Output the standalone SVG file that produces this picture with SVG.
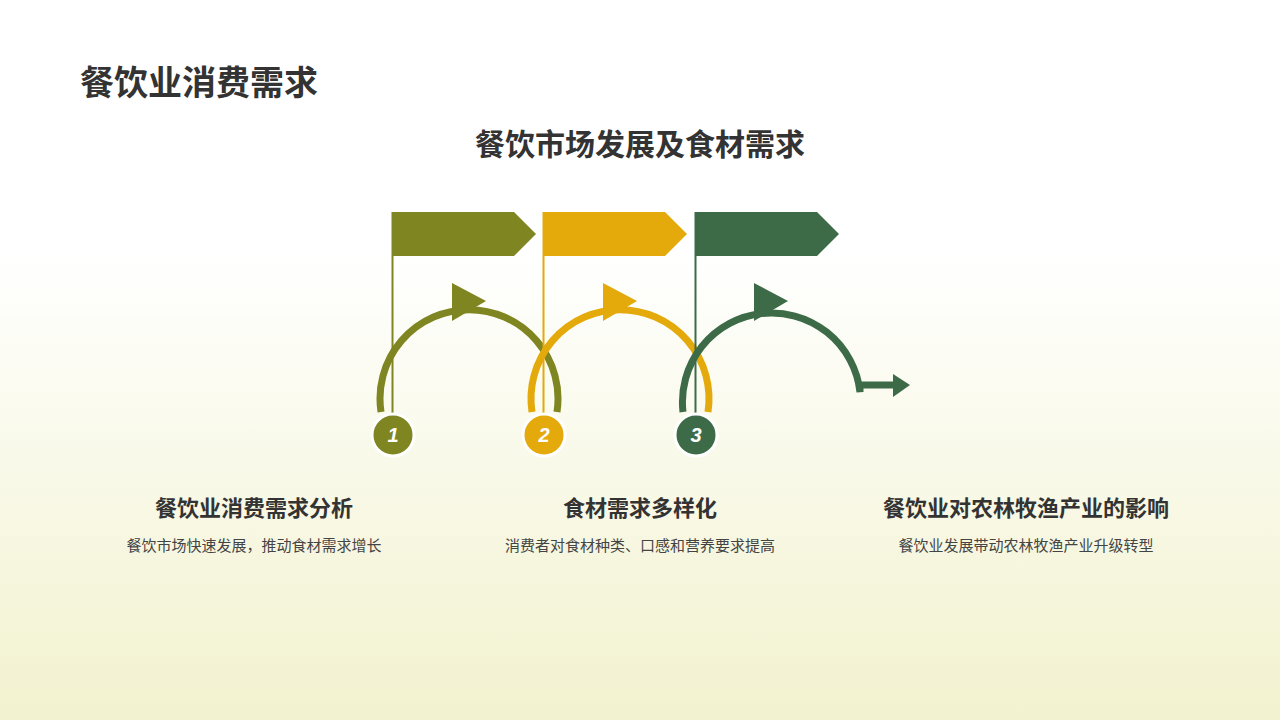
<svg xmlns="http://www.w3.org/2000/svg" width="1280" height="720" viewBox="0 0 1280 720">
<defs>
<linearGradient id="bg" x1="0" y1="0" x2="0" y2="1">
<stop offset="0" stop-color="#ffffff"/><stop offset="0.35" stop-color="#ffffff"/><stop offset="1" stop-color="#f2f2cf"/>
</linearGradient>
<style>
text{font-family:"Noto Sans CJK SC","Noto Sans",sans-serif;text-anchor:middle}
.h{font-size:22px;font-weight:bold;fill:#333}
.d{font-size:15px;fill:#444}
.n{font-family:"Liberation Sans",sans-serif;font-size:20px;font-weight:bold;font-style:italic;fill:#fff}
.arc{fill:none;stroke-width:7}
</style>
</defs>
<rect width="1280" height="720" fill="url(#bg)"/>
<text x="80" y="95" style="text-anchor:start;font-size:34px;font-weight:bold;fill:#333">餐饮业消费需求</text>
<text x="640" y="155" style="font-size:30px;font-weight:bold;fill:#333">餐饮市场发展及食材需求</text>
<g id="connectors">
<path class="arc" stroke="#7f8520" d="M381,412 A89,89 0 1 1 557,412"/>
<path class="arc" stroke="#e4a90a" d="M532,412 A89,89 0 1 1 708,412"/>
<path class="arc" stroke="#3d6b48" d="M683,412 A89,89 0 0 1 860,392 L860,385 L895,385" stroke-linejoin="miter"/>
<polygon points="893,374 893,397 910,385" fill="#3d6b48"/>
<polygon points="452,283 452,321 486,301" fill="#7f8520"/>
<polygon points="603,283 603,321 637,301" fill="#e4a90a"/>
<polygon points="754,283 754,321 788,301" fill="#3d6b48"/>
</g>
<g id="node1">
<polygon points="392,212 514,212 536,234 514,256 392,256" fill="#7f8520"/>
<rect x="391.5" y="212" width="2" height="205" fill="#7f8520"/>
<circle cx="393" cy="435" r="21" fill="#7f8520" stroke="#fff" stroke-width="3"/>
<text class="n" x="393" y="442">1</text>
<text class="h" x="254" y="516">餐饮业消费需求分析</text>
<text class="d" x="254" y="551">餐饮市场快速发展，推动食材需求增长</text>
</g>
<g id="node2">
<polygon points="543,212 665,212 687,234 665,256 543,256" fill="#e4a90a"/>
<rect x="542.5" y="212" width="2" height="205" fill="#e4a90a"/>
<circle cx="544" cy="435" r="21" fill="#e4a90a" stroke="#fff" stroke-width="3"/>
<text class="n" x="544" y="442">2</text>
<text class="h" x="640" y="516">食材需求多样化</text>
<text class="d" x="640" y="551">消费者对食材种类、口感和营养要求提高</text>
</g>
<g id="node3">
<polygon points="695,212 817,212 839,234 817,256 695,256" fill="#3d6b48"/>
<rect x="694.5" y="212" width="2" height="205" fill="#3d6b48"/>
<circle cx="696" cy="435" r="21" fill="#3d6b48" stroke="#fff" stroke-width="3"/>
<text class="n" x="696" y="442">3</text>
<text class="h" x="1026" y="516">餐饮业对农林牧渔产业的影响</text>
<text class="d" x="1026" y="551">餐饮业发展带动农林牧渔产业升级转型</text>
</g>
</svg>
